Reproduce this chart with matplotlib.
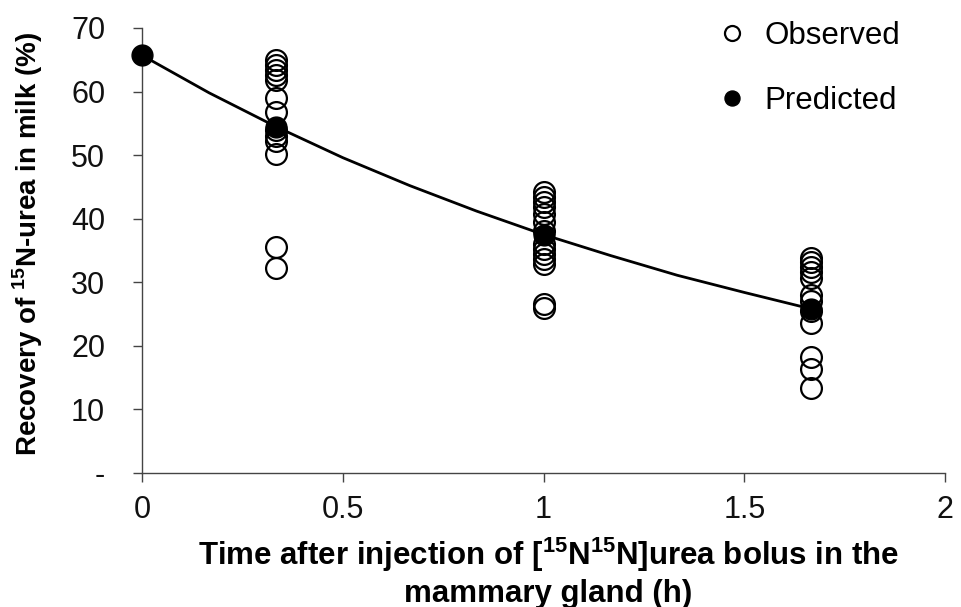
import matplotlib
matplotlib.use("Agg")
import matplotlib.pyplot as plt

REG = 'Liberation Sans'
plt.rcParams['font.family'] = [REG, 'DejaVu Sans']
plt.rcParams['mathtext.fontset'] = 'custom'
plt.rcParams['mathtext.bf'] = 'Liberation Sans:bold'
plt.rcParams['mathtext.rm'] = 'Liberation Sans'

# ---- data ----
obs_time_a = 0.333
obs_vals_a = [65.0, 64.2, 63.4, 62.6, 61.8, 59.0, 56.8, 54.0, 53.0, 52.2, 50.2, 35.6, 32.2]
obs_time_b = 1.0
obs_vals_b = [44.2, 43.4, 42.6, 41.8, 40.8, 39.5, 38.0, 36.0, 35.2, 34.4, 33.6, 32.8, 26.6, 26.0]
obs_time_c = 1.667
obs_vals_c = [33.8, 33.2, 32.4, 31.6, 30.6, 28.0, 27.0, 25.5, 23.6, 18.2, 16.3, 13.4]

pred_times = [0.0, 0.333, 1.0, 1.667]
pred_vals = [65.7, 54.5, 37.5, 25.8]

curve_times = [0.0, 0.167, 0.333, 0.5, 0.667, 0.833, 1.0, 1.167, 1.333, 1.5, 1.667]
curve_vals = [65.7, 59.8, 54.5, 49.6, 45.2, 41.2, 37.5, 34.2, 31.1, 28.4, 25.8]

yticks = [0, 10, 20, 30, 40, 50, 60, 70]
ytick_labels = ['-', '10', '20', '30', '40', '50', '60', '70']
xticks = [0, 0.5, 1, 1.5, 2]
xtick_labels = ['0', '0.5', '1', '1.5', '2']

fig = plt.figure(figsize=(9.61, 6.07), dpi=100)
ax = fig.add_axes([0.1478, 0.2208, 0.8356, 0.7331])

obs_t = [obs_time_a] * len(obs_vals_a) + [obs_time_b] * len(obs_vals_b) + [obs_time_c] * len(obs_vals_c)
obs_v = obs_vals_a + obs_vals_b + obs_vals_c

ax.plot(curve_times, curve_vals, color='black', lw=2.0, zorder=2)
ax.plot(obs_t, obs_v, linestyle='none', marker='o', markersize=15, markerfacecolor='none',
        markeredgecolor='black', markeredgewidth=1.6, label='Observed', zorder=3, clip_on=False)
ax.plot(pred_times, pred_vals, linestyle='none', marker='o', markersize=15, markerfacecolor='black',
        markeredgecolor='black', label='Predicted', zorder=4, clip_on=False)

ax.set_xlim(0, 2)
ax.set_ylim(0, 70)
ax.set_xticks(xticks)
ax.set_xticklabels(xtick_labels, fontsize=22)
ax.set_yticks(yticks)
ax.set_yticklabels(ytick_labels, fontsize=22)
ax.tick_params(axis='both', direction='out', length=6.5, width=1, color='#444444', labelcolor='#111111')
ax.tick_params(axis='x', pad=9)
ax.tick_params(axis='y', pad=20)
for s in ['top', 'right']:
    ax.spines[s].set_visible(False)
for s in ['left', 'bottom']:
    ax.spines[s].set_color('#444444')
    ax.spines[s].set_linewidth(1.0)

ax.set_xlabel('Time after injection of [$^{\\mathbf{15}}$N$^{\\mathbf{15}}$N]urea bolus in the\nmammary gland (h)',
              fontsize=22.5, fontweight='bold', linespacing=1.2)
ax.xaxis.set_label_coords(0.506, -0.1416)
ax.set_ylabel('Recovery of $^{\\mathbf{15}}$N-urea in milk (%)', fontsize=20, fontweight='bold')
ax.yaxis.set_label_coords(-0.121, 0.5146)

leg = fig.legend(loc='upper left', bbox_to_anchor=(0.7535, 0.965), frameon=False, fontsize=22.5,
                 markerscale=0.72, handletextpad=0.8, labelspacing=1.12, handlelength=0.5,
                 borderpad=0, borderaxespad=0,
                 handles=ax.get_lines()[1:], labels=['Observed', 'Predicted'])

fig.savefig('out.png', dpi=100)
